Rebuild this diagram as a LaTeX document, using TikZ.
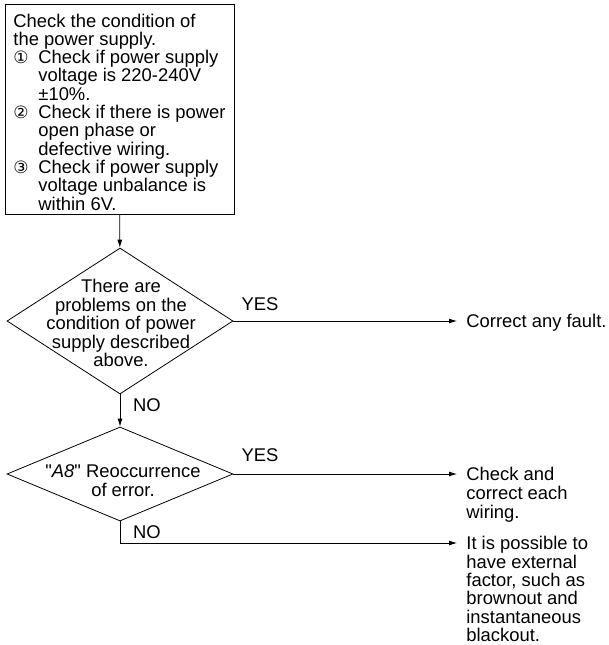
\documentclass[tikz,border=0pt]{standalone}
\usepackage{fontspec}
\setmainfont{Liberation Sans}
\newfontfamily\circfont{DejaVu Sans}
\newfontfamily\quotefont{Liberation Sans}[Ligatures=TeXOff]
\usepackage{tikz}
\usetikzlibrary{shapes.geometric,arrows.meta,positioning}

\newcommand{\circnum}[1]{\makebox[25pt][l]{\circfont\fontsize{17}{17}\selectfont #1}}
\newcommand{\hangin}{\hspace*{25pt}}
\newcommand{\dquote}{{\quotefont "}}

\begin{document}
\begin{tikzpicture}[x=1pt,y=-1pt,line width=0.8pt,
	font=\fontsize{18.4}{19}\selectfont,
	>={Latex[length=8pt,width=5pt]}]
	\useasboundingbox (0,0) rectangle (609,645);

	\node[shape=rectangle,draw=black,align=left,minimum width=229pt,minimum height=210pt,inner sep=0pt,
		font=\fontsize{18.4}{18.3}\selectfont] (A) at (119.5,109) {\rule{0pt}{19.3pt}Check the condition of\\
		the power supply.\\
		\circnum{①}Check if power supply\\
		\hangin voltage is 220-240V\\
		\hangin ±10\%.\\
		\circnum{②}Check if there is power\\
		\hangin open phase or\\
		\hangin defective wiring.\\
		\circnum{③}Check if power supply\\
		\hangin voltage unbalance is\\
		\hangin within 6V.};
	\node[shape=diamond,draw=black,minimum width=226pt,minimum height=146pt,inner sep=0pt] (B) at (120,321) {};
	\node[align=center,font=\fontsize{18.4}{18.5}\selectfont] (Bt) at (121,323) {There are\\problems on the\\condition of power\\supply described\\above.};
	\node[shape=diamond,draw=black,minimum width=226pt,minimum height=94pt,inner sep=0pt] (C) at (120,474) {};
	\node[align=center] (Ct) at (123,481) {\dquote\textit{A8}\dquote\ Reoccurrence\\of error.};

	\node[anchor=north west,align=left,inner xsep=9pt,inner ysep=0pt] (D) at (457,314) {Correct any fault.};
	\node[anchor=north west,align=left,inner xsep=9pt,inner ysep=0pt] (E) at (457,467) {Check and\\correct each\\wiring.};
	\node[anchor=north west,align=left,inner xsep=9pt,inner ysep=0pt,
		font=\fontsize{18.4}{18.4}\selectfont] (F) at (457,536) {It is possible to\\have external\\factor, such as\\brownout and\\instantaneous\\blackout.};

	\node (Y1) at (260,304) {YES};
	\node (N1) at (147,405) {NO};
	\node (Y2) at (260,455) {YES};
	\node (N2) at (147,532) {NO};

	\draw [->] (A) -- (B);
	\draw [->] (B) -- (C);
	\draw [->] (B.east) -- ([yshift=-7pt]D.north west);
	\draw [->] (C.east) -- ([yshift=-7pt]E.north west);
	\draw [->] (C.south) |- ([yshift=-7pt]F.north west);
\end{tikzpicture}
\end{document}
